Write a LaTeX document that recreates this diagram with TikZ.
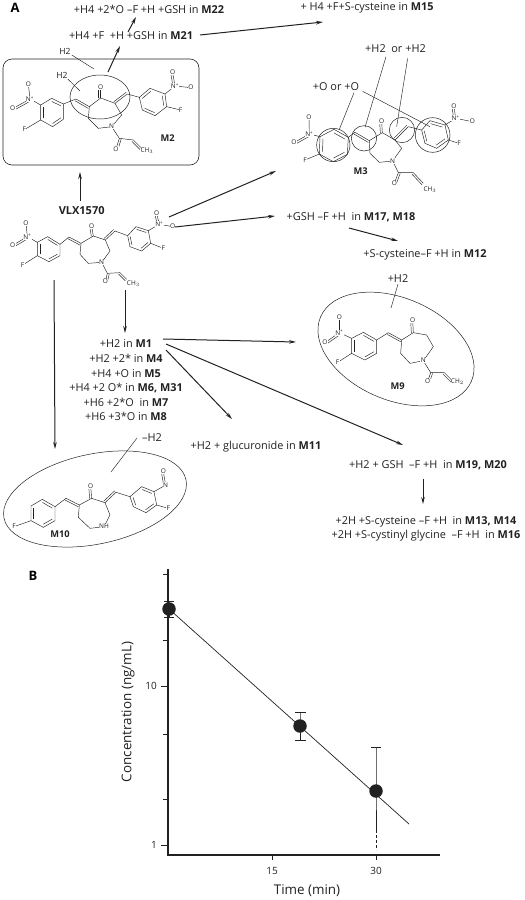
\documentclass[tikz,border=0pt]{standalone}
\usepackage{fontspec}
\setmainfont{Open Sans}
\usetikzlibrary{arrows.meta,calc}
\definecolor{ink}{gray}{0.13}
\tikzset{
  lab/.style={inner sep=0pt, text=ink, font=\fontsize{10.9}{14.6}\selectfont, align=center},
  panel/.style={inner sep=0pt, text=black, font=\fontsize{13}{13}\selectfont\bfseries},
  atom/.style={inner sep=0.4pt, fill=white, text=ink, font=\fontsize{6.5}{7}\selectfont},
  tag/.style={inner sep=0pt, text=ink, font=\fontsize{9.3}{10}\selectfont\bfseries},
  bond/.style={draw=ink, line width=0.45pt, line join=round},
  ring/.style={draw=ink, line width=0.5pt},
  flow/.style={draw=ink, line width=1pt, -{Stealth[length=7pt,width=3.6pt]}},
  axlab/.style={inner sep=0pt, text=ink, font=\fontsize{10}{10}\selectfont},
  axtitle/.style={inner sep=0pt, text=ink, font=\fontsize{13.4}{14}\selectfont},
  ax/.style={draw=ink, line width=1.5pt},
  tick/.style={draw=ink, line width=0.7pt},
  errbar/.style={draw=ink, line width=1pt},
  dot/.style={circle, fill=ink, inner sep=0pt, minimum size=13.5pt}
}
% six ring corners, with the three inner lines
\newcommand{\benzring}[6]{
  \draw[bond] (#1) -- (#2) -- (#3) -- (#4) -- (#5) -- (#6) -- cycle;
  \coordinate (rc) at ($(#1)!.5!(#4)$);
  \draw[bond] ($(rc)!.78!(#1)$) -- ($(rc)!.78!(#2)$);
  \draw[bond] ($(rc)!.78!(#3)$) -- ($(rc)!.78!(#4)$);
  \draw[bond] ($(rc)!.78!(#5)$) -- ($(rc)!.78!(#6)$);
}
\newcommand{\dbond}[3][90]{
  \draw[bond] (#2) -- (#3);
  \draw[bond] ($(#2)!6pt!#1:(#3)$) -- ($(#3)!6pt!-#1:(#2)$);
}
\newcommand{\nplus}{N\textsuperscript{+}}
\begin{document}
\begin{tikzpicture}[x=1pt,y=-1pt]
  \useasboundingbox (0,0) rectangle (525,900);
  \node[panel] (panA) at (15,8) {A};
  \node[panel] (panB) at (33,576) {B};

  % metabolite labels
  \node[lab] (m22) at (149,9) {+H4 +2*O --F +H +GSH in \textbf{M22}};
  \node[lab] (m21) at (131,36) {+H4 +F \ +H +GSH in \textbf{M21}};
  \node[lab] (m15) at (367,8) {+ H4 +F+S-cysteine in \textbf{M15}};
  \node[lab] (m17) at (351,217) {+GSH --F +H \ in \textbf{M17, M18}};
  \node[lab] (m12) at (425,255) {+S-cysteine--F +H in \textbf{M12}};
  \node[lab] (m11) at (256,447) {+H2 + glucuronide in \textbf{M11}};
  \node[lab] (m19) at (428,465) {+H2 + GSH \ --F +H \ in \textbf{M19, M20}};
  \node[lab] (m13) at (426,529) {+2H +S-cysteine --F +H \ in \textbf{M13, M14}\\
    +2H +S-cystinyl glycine \ --F +H \ in \textbf{M16}};
  \node[lab] (m1) at (126,380.5) {+H2 in \textbf{M1}\\ +H2 +2* in \textbf{M4}\\ +H4 +O in \textbf{M5}\\
    +H4 +2 O* in \textbf{M6, M31}\\ +H6 +2*O \ in \textbf{M7}\\ +H6 +3*O in \textbf{M8}};

  % M2
  \draw[draw=ink, line width=0.6pt, rounded corners=9pt] (3,59) rectangle (199,165);
  \node[lab] (m2a) at (65,51) {\fontsize{8.5}{9}\selectfont H2};
  \node[lab] (m2b) at (62,75) {\fontsize{8.5}{9}\selectfont H2};
  \draw[bond] (m2a.east) ++(1,4) -- (94,69);
  \draw[bond] (m2b.east) ++(0,4) -- (80,91);
  \draw[ring] (100,97) ellipse [x radius=30, y radius=22];
  \begin{scope}[shift={(0,0)},scale=1/3]
    \benzring{155,295}{190,312}{190,358}{158,380}{122,360}{122,315}
    \benzring{418,292}{450,265}{495,282}{500,320}{465,347}{427,330}
    \draw[bond] (122,315) -- (90,297);
    \draw[bond] (122,360) -- (73,389);
    \draw[bond] (190,312) -- (228,297);
    \dbond[-90]{228,297}{268,320}
    \draw[bond] (268,320) -- (302,294) -- (345,310);
    \dbond{302,294}{302,263}
    \dbond{345,310}{382,282}
    \draw[bond] (382,282) -- (418,292);
    \draw[bond] (495,282) -- (525,258) -- (573,263);
    \dbond{525,258}{518,218}
    \dbond{90,297}{38,326}
    \draw[bond] (90,297) -- (85,252);
    \draw[bond] (500,320) -- (542,330);
    \draw[bond] (268,320) -- (265,355) -- (295,385) -- (335,380) -- (365,345) -- (345,310);
    \draw[bond] (335,380) -- (358,415) -- (400,420);
    \dbond{358,415}{348,447}
    \dbond[-90]{400,420}{425,445}
    \node[atom] (m2n1) at (90,297) {\nplus};
    \node[atom] (m2o1) at (85,252) {O};
    \node[atom] (m2o2) at (38,326) {O};
    \node[atom] (m2f1) at (73,389) {F};
    \node[atom] (m2o3) at (302,263) {O};
    \node[atom] (m2n2) at (525,258) {\nplus};
    \node[atom] (m2o4) at (518,218) {O};
    \node[atom] (m2o5) at (573,263) {O};
    \node[atom] (m2f2) at (542,330) {F};
    \node[atom] (m2n3) at (335,380) {N};
    \node[atom] (m2o6) at (348,447) {O};
    \node[atom] (m2c1) at (441,453) {CH$_3$};
    \node[tag] (m2tag) at (503,413) {M2};
  \end{scope}

  % M3
  \node[lab] (m3a) at (395.5,49) {+H2 \ or +H2};
  \node[lab] (m3b) at (336,87) {+O or +O};
  \begin{scope}[shift={(260,0)},scale=1/3]
    \draw[bond] (378,170) -- (315,382);
    \draw[bond] (443,175) -- (410,380);
    \draw[bond] (282,278) -- (238,388);
    \draw[bond] (308,274) -- (510,380);
    \draw[ring] (220,435) circle [radius=50];
    \draw[ring] (312,415) circle [radius=38];
    \draw[ring] (426,390) circle [radius=38];
    \draw[ring] (518,405) circle [radius=52];
    \benzring{222,388}{265,412}{262,463}{220,485}{178,462}{180,410}
    \benzring{510,362}{555,375}{565,420}{530,445}{495,430}{485,390}
    \draw[bond] (180,410) -- (148,402);
    \draw[bond] (178,462) -- (135,480);
    \draw[bond] (265,412) -- (285,397);
    \dbond[-90]{285,397}{328,422}
    \draw[bond] (328,422) -- (367,398) -- (405,420);
    \dbond{367,398}{365,365}
    \dbond{405,420}{445,380}
    \draw[bond] (445,380) -- (485,390);
    \draw[bond] (555,375) -- (587,355) -- (637,365);
    \dbond{587,355}{582,320}
    \dbond{148,402}{102,428}
    \draw[bond] (148,402) -- (147,353);
    \draw[bond] (565,420) -- (597,430);
    \draw[bond] (328,422) -- (330,460) -- (358,487) -- (398,483) -- (425,445) -- (405,420);
    \draw[bond] (398,483) -- (415,518) -- (460,518);
    \dbond{415,518}{403,550}
    \dbond[-90]{460,518}{490,550}
    \node[atom] (m3n1) at (148,402) {\nplus};
    \node[atom] (m3o1) at (147,353) {O};
    \node[atom] (m3o2) at (102,428) {O};
    \node[atom] (m3f1) at (135,480) {F};
    \node[atom] (m3o3) at (365,365) {O};
    \node[atom] (m3n2) at (587,355) {\nplus};
    \node[atom] (m3o4) at (582,320) {O};
    \node[atom] (m3o5) at (637,365) {O};
    \node[atom] (m3f2) at (597,430) {F};
    \node[atom] (m3n3) at (398,483) {N};
    \node[atom] (m3o6) at (403,550) {O};
    \node[atom] (m3c1) at (510,568) {CH$_3$};
    \node[tag] (m3tag) at (302,515) {M3};
  \end{scope}

  % VLX1570
  \begin{scope}[shift={(0,165)},scale=1/3]
    \benzring{143,215}{180,238}{180,272}{147,290}{112,272}{112,232}
    \benzring{408,185}{445,197}{452,235}{425,258}{390,245}{383,212}
    \draw[bond] (112,232) -- (82,215);
    \draw[bond] (112,272) -- (68,300);
    \draw[bond] (180,238) -- (207,216);
    \dbond[-90]{207,216}{243,235}
    \draw[bond] (243,235) -- (280,213) -- (316,225);
    \dbond{280,213}{275,183}
    \dbond{316,225}{345,198}
    \draw[bond] (345,198) -- (383,212);
    \draw[bond] (445,197) -- (478,178) -- (518,185);
    \dbond{478,178}{470,145}
    \dbond{82,215}{38,241}
    \draw[bond] (82,215) -- (78,175);
    \draw[bond] (452,235) -- (490,250);
    \draw[bond] (243,235) -- (240,268) -- (265,295) -- (305,292) -- (330,258) -- (316,225);
    \draw[bond] (305,292) -- (322,325) -- (360,323);
    \dbond{322,325}{316,350}
    \dbond[-90]{360,323}{380,343}
    \node[atom] (vn1) at (82,215) {\nplus};
    \node[atom] (vo1) at (78,175) {O};
    \node[atom] (vo2) at (38,241) {O};
    \node[atom] (vf1) at (68,300) {F};
    \node[atom] (vo3) at (275,183) {O};
    \node[atom] (vn2) at (478,178) {\nplus};
    \node[atom] (vo4) at (470,145) {O};
    \node[atom] (vo5) at (518,185) {O};
    \node[atom] (vf2) at (490,250) {F};
    \node[atom] (vn3) at (305,292) {N};
    \node[atom] (vo6) at (316,350) {O};
    \node[atom] (vc1) at (400,357) {CH$_3$};
    \node[tag, font=\fontsize{11}{11}\selectfont\bfseries] (vlx) at (245,138) {VLX1570};
  \end{scope}

  % M9
  \node[lab] (m9a) at (398,279) {+H2};
  \draw[bond] (m9a.south) ++(0,1) -- (391,308);
  \draw[ring] [rotate around={-23:(396,349)}] (396,349) ellipse [x radius=82, y radius=51];
  \begin{scope}[shift={(260,200)},scale=1/3]
    \benzring{310,397}{350,420}{350,460}{315,480}{275,460}{275,415}
    \draw[bond] (275,415) -- (238,398);
    \draw[bond] (275,460) -- (233,487);
    \draw[bond] (350,420) -- (385,398);
    \dbond[-90]{385,398}{425,420}
    \draw[bond] (425,420) -- (460,398) -- (500,405) -- (520,440) -- (490,482) -- (450,490) -- (422,460) -- cycle;
    \dbond{460,398}{458,362}
    \dbond{238,398}{195,428}
    \draw[bond] (238,398) -- (238,352);
    \draw[bond] (490,482) -- (512,518) -- (553,518);
    \dbond{512,518}{503,545}
    \dbond[-90]{553,518}{580,545}
    \node[atom] (m9n1) at (238,398) {\nplus};
    \node[atom] (m9o1) at (238,352) {O};
    \node[atom] (m9o2) at (195,428) {O};
    \node[atom] (m9f1) at (233,487) {F};
    \node[atom] (m9o3) at (458,362) {O};
    \node[atom] (m9n2) at (490,482) {N};
    \node[atom] (m9o4) at (503,545) {O};
    \node[atom] (m9c1) at (592,545) {CH$_2$};
    \node[tag] (m9tag) at (413,560) {M9};
  \end{scope}

  % M10
  \node[lab] (m10a) at (152,438) {--H2};
  \draw[bond] (137,438) -- (111,472);
  \draw[ring] [rotate around={12:(95,499)}] (95,499) ellipse [x radius=93, y radius=45];
  \begin{scope}[shift={(0,330)},scale=1/3]
    \benzring{127,508}{165,530}{165,572}{130,592}{93,572}{93,528}
    \benzring{425,470}{462,485}{470,525}{438,548}{400,530}{390,500}
    \draw[bond] (93,572) -- (42,590);
    \draw[bond] (165,530) -- (198,505);
    \dbond[-90]{198,505}{238,525}
    \draw[bond] (238,525) -- (275,505) -- (315,518);
    \dbond{275,505}{272,468}
    \dbond{315,518}{348,487}
    \draw[bond] (348,487) -- (390,500);
    \draw[bond] (462,485) -- (497,465);
    \dbond{497,465}{490,425}
    \draw[bond] (470,525) -- (505,535);
    \draw[bond] (238,525) -- (235,562) -- (270,595) -- (312,590) -- (330,555) -- (315,518);
    \node[atom] (m10f1) at (42,590) {F};
    \node[atom] (m10o1) at (272,468) {O};
    \node[atom] (m10n1) at (497,465) {N};
    \node[atom] (m10o2) at (490,425) {O};
    \node[atom] (m10f2) at (505,535) {F};
    \node[atom] (m10n2) at (312,590) {NH};
    \node[tag] (m10tag) at (180,612) {M10};
  \end{scope}

  % free ends of the arrows
  \coordinate (a1) at (108,72);  \coordinate (a2) at (120,46);
  \coordinate (b1) at (128,32);  \coordinate (b2) at (136,17);
  \coordinate (c1) at (200,35);  \coordinate (c2) at (323,22);
  \coordinate (d1) at (80,201);  \coordinate (d2) at (80,172);
  \coordinate (e1) at (169,217); \coordinate (e2) at (276,171);
  \coordinate (f1) at (175,227); \coordinate (f2) at (275,216);
  \coordinate (g1) at (349,228); \coordinate (g2) at (398,241);
  \coordinate (h1) at (125,290); \coordinate (h2) at (125,333);
  \coordinate (i1) at (54,280);  \coordinate (i2) at (55,449);
  \coordinate (j1) at (163,339); \coordinate (j2) at (296,342);
  \coordinate (k1) at (166,344); \coordinate (k2) at (403,445);
  \coordinate (l1) at (166,350); \coordinate (l2) at (232,419);
  \coordinate (n1) at (423,479); \coordinate (n2) at (423,504);
  \foreach \s/\t in {a1/a2,b1/b2,c1/c2,d1/d2,e1/e2,f1/f2,g1/g2,h1/h2,i1/i2,j1/j2,k1/k2,l1/l2,n1/n2}
    \draw[flow] (\s) -- (\t);

  % panel B
  \coordinate (origin) at (168,855);
  \coordinate (ytop) at (168,569);
  \coordinate (xend) at (440,855);
  \draw[ax] (ytop) -- (origin) -- (xend);
  \foreach \y in {574,640,734,799}
    \draw[tick] (163,\y) -- (168,\y);
  \draw[tick] (161,686) -- (168,686);
  \draw[tick] (161,845) -- (168,845);
  \draw[tick] (272,855) -- (272,860);
  \draw[tick] (376,855) -- (376,860);
  \node[axlab] (y10) at (151,686) {10};
  \node[axlab] (y1) at (154,845) {1};
  \node[axlab] (x15) at (272,871) {15};
  \node[axlab] (x30) at (376,871) {30};
  \node[axtitle] (xlab) at (307,891) {Time (min)};
  \node[axtitle, rotate=90] (ylab) at (128,712) {Concentration (ng/mL)};
  \node[dot] (pa) at (169,609) {};
  \node[dot] (pb) at (300,726) {};
  \node[dot] (pc) at (376,791) {};
  \coordinate (fitend) at (409,824);
  \draw[draw=ink, line width=0.7pt] (pa.center) -- (fitend);
  \draw[errbar] (169,601) -- (pa.center) -- (169,617);
  \draw[errbar] (164,601) -- (174,601);
  \draw[errbar] (164,617) -- (174,617);
  \draw[errbar] (300,712) -- (pb.center) -- (300,740);
  \draw[errbar] (295,712) -- (306,712);
  \draw[errbar] (295,740) -- (306,740);
  \draw[errbar] (376,747) -- (pc.center) -- (376,830);
  \draw[errbar] (371,747) -- (381,747);
  \draw[errbar, dash pattern=on 3pt off 2pt] (376,830) -- (376,850);
\end{tikzpicture}
\end{document}
